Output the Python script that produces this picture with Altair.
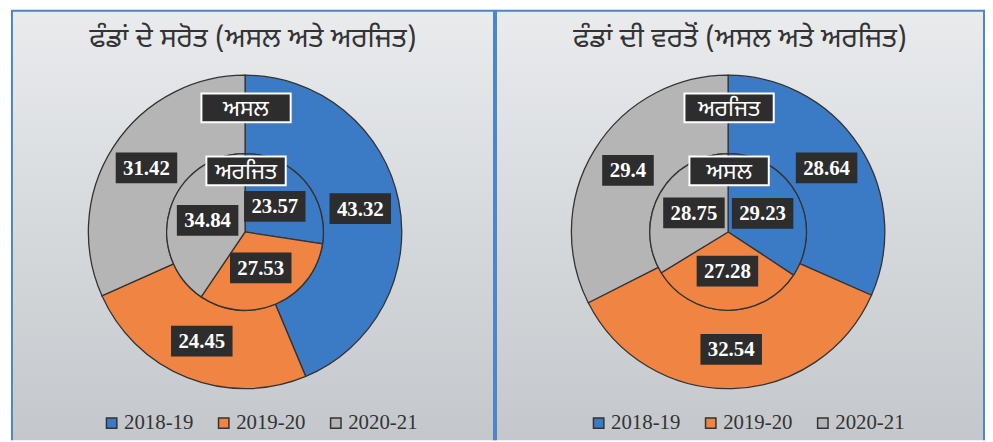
import altair as alt
import pandas as pd

# ---------------- data ----------------
years = ["2018-19", "2019-20", "2020-21"]
colors = ["#3b7bc6", "#f08442", "#b5b5b5"]

title_left = "ਫੰਡਾਂ ਦੇ ਸਰੋਤ (ਅਸਲ ਅਤੇ ਅਰਜਿਤ)"
title_right = "ਫੰਡਾਂ ਦੀ ਵਰਤੋਂ (ਅਸਲ ਅਤੇ ਅਰਜਿਤ)"
name_actual = "ਅਸਲ"
name_estimated = "ਅਰਜਿਤ"

sources_actual = [43.32, 24.45, 31.42]     # left panel, outer ring
sources_estimated = [23.57, 27.53, 34.84]  # left panel, inner pie
uses_estimated = [28.64, 32.54, 29.4]      # right panel, outer ring
uses_actual = [29.23, 27.28, 28.75]        # right panel, inner pie

# ---------------- style ----------------
R_OUT, R_IN = 158, 79
BORDER = "#4a86c8"
BOX = "#2d2d2d"
GUR_FONT = "Noto Sans Gurmukhi"
SERIF = "Liberation Serif"

bg_fill = alt.LinearGradient(
    gradient="linear",
    stops=[alt.GradientStop(color="#e9ebed", offset=0),
           alt.GradientStop(color="#c3c7cb", offset=1)],
    x1=0, x2=0, y1=0, y2=1,
)


def panel(title, outer_name, outer_vals, inner_name, inner_vals, W, H, cx, cy, leg_x):
    rows = []
    for ring, vals in (("outer", outer_vals), ("inner", inner_vals)):
        for k, (yr, v) in enumerate(zip(years, vals)):
            rows.append({"ring": ring, "year": yr, "k": k, "value": v, "label": str(v)})
    df = pd.DataFrame(rows)
    names = pd.DataFrame({"ring": ["outer", "inner"], "name": [outer_name, inner_name]})
    one = pd.DataFrame({"t": [title]})

    xs = alt.Scale(domain=[-cx, W - cx], nice=False, zero=False)
    ys = alt.Scale(domain=[-(H - cy), cy], nice=False, zero=False)

    color = alt.Color(
        "year:N",
        scale=alt.Scale(domain=years, range=colors),
        legend=alt.Legend(
            orient="none", legendX=leg_x, legendY=406, direction="horizontal",
            title=None, symbolType="square", symbolSize=110,
            symbolStrokeColor="#333", symbolStrokeWidth=1.5, symbolOpacity=1,
            labelFont=SERIF, labelFontSize=21, labelColor="#333",
            columnPadding=20, labelOffset=2,
        ),
    )

    bg = alt.Chart(one).mark_rect(
        fill=bg_fill, stroke=BORDER, strokeWidth=4, clip=True
    ).encode(x=alt.value(0), x2=alt.value(W), y=alt.value(0), y2=alt.value(H + 8))

    outer = alt.Chart(df).transform_filter("datum.ring == 'outer'").mark_arc(
        radius=R_OUT, radius2=R_IN, stroke="#333", strokeWidth=1.3
    ).encode(
        theta=alt.Theta("value:Q", stack=True),
        order=alt.Order("k:Q"),
        color=color,
        x=alt.value(cx), y=alt.value(cy),
    )
    inner = alt.Chart(df).transform_filter("datum.ring == 'inner'").mark_arc(
        radius=R_IN, stroke="#333", strokeWidth=1.3
    ).encode(
        theta=alt.Theta("value:Q", stack=True),
        order=alt.Order("k:Q"),
        color=color,
        x=alt.value(cx), y=alt.value(cy),
    )

    lab = (
        alt.Chart(df)
        .transform_joinaggregate(total="sum(value)", groupby=["ring"])
        .transform_window(cum="sum(value)", groupby=["ring"],
                          sort=[alt.SortField("k", order="ascending")], frame=[None, 0])
        .transform_calculate(mid="(datum.cum - datum.value / 2) / datum.total * 2 * PI")
        .transform_calculate(r=f"datum.ring == 'outer' ? {(R_OUT + R_IN) / 2} : {R_IN / 2}")
        .transform_calculate(lx="datum.r * sin(datum.mid)")
        .transform_calculate(ly="datum.r * cos(datum.mid)")
        .transform_calculate(bw="length(datum.label) * 10 + 12")
        .transform_calculate(x1="datum.lx - datum.bw / 2")
        .transform_calculate(x2="datum.lx + datum.bw / 2")
        .transform_calculate(y1="datum.ly - 15.5")
        .transform_calculate(y2="datum.ly + 15.5")
    )
    boxes = lab.mark_rect(fill=BOX).encode(
        x=alt.X("x1:Q", scale=xs, axis=None), x2="x2:Q",
        y=alt.Y("y1:Q", scale=ys, axis=None), y2="y2:Q",
    )
    texts = lab.mark_text(
        color="white", font=SERIF, fontWeight="bold", fontSize=21, baseline="middle", dy=1
    ).encode(
        x=alt.X("lx:Q", scale=xs, axis=None),
        y=alt.Y("ly:Q", scale=ys, axis=None),
        text="label:N",
    )

    nm = (
        alt.Chart(names)
        .transform_calculate(ny=f"datum.ring == 'outer' ? {R_OUT - 33} : {R_IN - 17.5}")
        .transform_calculate(bw="datum.ring == 'outer' ? 90 : 80")
        .transform_calculate(nx="1")
        .transform_calculate(x1="datum.nx - datum.bw / 2")
        .transform_calculate(x2="datum.nx + datum.bw / 2")
        .transform_calculate(y1="datum.ny - 14.5")
        .transform_calculate(y2="datum.ny + 14.5")
    )
    nm_boxes = nm.mark_rect(fill=BOX, stroke="white", strokeWidth=2).encode(
        x=alt.X("x1:Q", scale=xs, axis=None), x2="x2:Q",
        y=alt.Y("y1:Q", scale=ys, axis=None), y2="y2:Q",
    )
    nm_texts = nm.mark_text(
        color="white", font=GUR_FONT, fontSize=23, baseline="middle", dy=1
    ).encode(
        x=alt.X("nx:Q", scale=xs, axis=None),
        y=alt.Y("ny:Q", scale=ys, axis=None),
        text="name:N",
    )

    ttl = alt.Chart(one).mark_text(
        font=GUR_FONT, fontSize=28, color="#333", baseline="middle"
    ).encode(text="t:N", x=alt.value(W / 2), y=alt.value(30))

    return (
        alt.layer(bg, outer, inner, boxes, texts, nm_boxes, nm_texts, ttl)
        .resolve_scale(theta="independent")
        .properties(width=W, height=H)
    )


H = 434
left = panel(title_left, name_actual, sources_actual, name_estimated, sources_estimated,
             W=488, H=H, cx=236, cy=224, leg_x=91)
right = panel(title_right, name_estimated, uses_estimated, name_actual, uses_actual,
              W=494, H=H, cx=235, cy=224, leg_x=94)

chart = (
    alt.hconcat(left, right, spacing=0)
    .resolve_scale(color="independent")
    .properties(padding={"left": 3, "top": 0, "right": 0, "bottom": 0})
    .configure_view(stroke=None)
)

chart.save("out.html", embed_options={"renderer": "svg", "actions": False})
